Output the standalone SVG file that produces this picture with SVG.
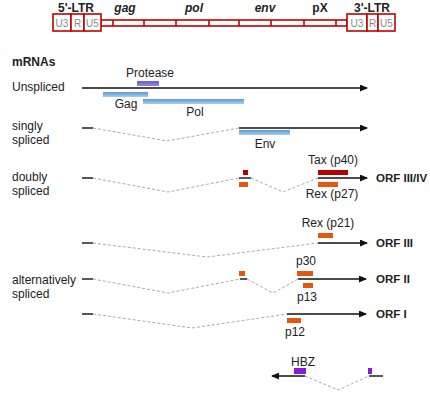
<svg xmlns="http://www.w3.org/2000/svg" width="430" height="400" viewBox="0 0 430 400">
<style>
text{font-family:"Liberation Sans",Arial,sans-serif;fill:#222}
.lbl{font-size:12px}
.top{font-size:12px;font-weight:bold;text-anchor:middle}
.it{font-style:italic}
.box{fill:#fff;stroke:#c00000;stroke-width:1.6}
.bx{font-size:10px;fill:#888;text-anchor:middle}
.orf{font-size:11.5px;font-weight:bold}
.mid{text-anchor:middle}
.sol{stroke:#111;stroke-width:1.4;fill:none}
.dash{stroke:#aaa;stroke-width:1;stroke-dasharray:3,2;fill:none}
.blue{fill:url(#gb)}
.or{fill:#e3570e}
.tax{fill:#b30000}
.hbz{fill:#8a1ad8}
</style>
<defs>
<linearGradient id="gb" x1="0" y1="0" x2="0" y2="1"><stop offset="0" stop-color="#5b9bd5"/><stop offset="1" stop-color="#a8cdf0"/></linearGradient>
<linearGradient id="gp" x1="0" y1="0" x2="0" y2="1"><stop offset="0" stop-color="#6a5cd0"/><stop offset="1" stop-color="#8f86e6"/></linearGradient>
<marker id="ah" markerWidth="8" markerHeight="7" refX="7" refY="3.5" orient="auto" markerUnits="userSpaceOnUse"><path d="M0,0 L8,3.5 L0,7 z" fill="#111"/></marker>
</defs>

<g id="genome">
<rect x="101" y="20" width="246" height="6" fill="#fff" stroke="#c00000" stroke-width="1.6"/>
<path d="M113,20V26M144,20V26M176,20V26M209,20V26M239,20V26M271,20V26M304,20V26M336,20V26" stroke="#c00000" stroke-width="1.6"/>
<rect class="box" x="53" y="14" width="18" height="17"/>
<rect class="box" x="71" y="14" width="13" height="17"/>
<rect class="box" x="84" y="14" width="17" height="17"/>
<rect class="box" x="347" y="14" width="20" height="17"/>
<rect class="box" x="367" y="14" width="11" height="17"/>
<rect class="box" x="378" y="14" width="17" height="17"/>
<text class="bx" x="62" y="27">U3</text>
<text class="bx" x="77.5" y="27">R</text>
<text class="bx" x="92.5" y="27">U5</text>
<text class="bx" x="357" y="27">U3</text>
<text class="bx" x="372.5" y="27">R</text>
<text class="bx" x="386.5" y="27">U5</text>
<text class="top" x="76" y="12">5'-LTR</text>
<text class="top it" x="125" y="12">gag</text>
<text class="top it" x="194" y="12">pol</text>
<text class="top it" x="265" y="12">env</text>
<text class="top" x="320" y="12">pX</text>
<text class="top" x="372" y="12">3'-LTR</text>
</g>

<g id="labels">
<text class="lbl" x="12" y="66" font-weight="bold">mRNAs</text>
<text class="lbl" x="12" y="91">Unspliced</text>
<text class="lbl" x="12" y="130">singly</text>
<text class="lbl" x="12" y="144">spliced</text>
<text class="lbl" x="12" y="181">doubly</text>
<text class="lbl" x="12" y="195">spliced</text>
<text class="lbl" x="12" y="284">alternatively</text>
<text class="lbl" x="12" y="298">spliced</text>
</g>

<g id="unspliced">
<line class="sol" x1="82" y1="88" x2="367" y2="88" marker-end="url(#ah)"/>
<rect x="137" y="81" width="22" height="5" fill="url(#gp)"/>
<rect class="blue" x="103" y="92" width="45" height="5"/>
<rect class="blue" x="143" y="99" width="101" height="5"/>
<text class="lbl mid" x="150" y="77">Protease</text>
<text class="lbl mid" x="126" y="108">Gag</text>
<text class="lbl mid" x="195" y="116">Pol</text>
</g>

<g id="singly">
<line class="sol" x1="82" y1="128" x2="93" y2="128"/>
<polyline class="dash" points="93,128 167,141 239,128"/>
<line class="sol" x1="239" y1="128" x2="367" y2="128" marker-end="url(#ah)"/>
<rect class="blue" x="239" y="130" width="51" height="5"/>
<text class="lbl mid" x="265" y="148">Env</text>
</g>

<g id="doubly">
<line class="sol" x1="82" y1="178" x2="93" y2="178"/>
<polyline class="dash" points="93,178 168,192 239,178"/>
<line class="sol" x1="239" y1="178" x2="251" y2="178"/>
<polyline class="dash" points="251,178 283,192 318,178"/>
<line class="sol" x1="318" y1="178" x2="367" y2="178" marker-end="url(#ah)"/>
<rect class="tax" x="243" y="170" width="5" height="5"/>
<rect class="or" x="239" y="182" width="9" height="5"/>
<rect class="tax" x="318" y="170" width="30" height="5"/>
<rect class="or" x="318" y="182" width="20" height="5"/>
<text class="lbl mid" x="333" y="164">Tax (p40)</text>
<text class="lbl mid" x="332" y="198">Rex (p27)</text>
<text class="orf" x="376" y="182">ORF III/IV</text>
</g>

<g id="orf3">
<line class="sol" x1="82" y1="243" x2="93" y2="243"/>
<polyline class="dash" points="93,243 207,257 318,243"/>
<line class="sol" x1="318" y1="243" x2="367" y2="243" marker-end="url(#ah)"/>
<rect class="or" x="318" y="233" width="15" height="5"/>
<text class="lbl mid" x="328" y="227">Rex (p21)</text>
<text class="orf" x="376" y="247">ORF III</text>
</g>

<g id="orf2">
<line class="sol" x1="82" y1="279" x2="93" y2="279"/>
<polyline class="dash" points="93,279 168,293 240,279"/>
<line class="sol" x1="240" y1="279" x2="247" y2="279"/>
<polyline class="dash" points="247,279 273,293 298,279"/>
<line class="sol" x1="298" y1="279" x2="366" y2="279" marker-end="url(#ah)"/>
<rect class="or" x="239" y="271" width="6" height="5"/>
<rect class="or" x="297" y="271" width="16" height="5"/>
<rect class="or" x="303" y="283" width="10" height="5"/>
<text class="lbl mid" x="306" y="265">p30</text>
<text class="lbl mid" x="307" y="301">p13</text>
<text class="orf" x="376" y="283">ORF II</text>
</g>

<g id="orf1">
<line class="sol" x1="82" y1="314" x2="93" y2="314"/>
<polyline class="dash" points="93,314 192,328 287,314"/>
<line class="sol" x1="287" y1="314" x2="366" y2="314" marker-end="url(#ah)"/>
<rect class="or" x="287" y="318" width="14" height="5"/>
<text class="lbl mid" x="295" y="336">p12</text>
<text class="orf" x="376" y="318">ORF I</text>
</g>

<g id="hbz">
<line class="sol" x1="305" y1="376" x2="272" y2="376" marker-end="url(#ah)"/>
<polyline class="dash" points="305,376 338,390 369,376"/>
<line class="sol" x1="369" y1="376" x2="383" y2="376"/>
<rect class="hbz" x="294" y="368" width="12" height="6"/>
<rect class="hbz" x="368" y="368" width="4" height="6"/>
<text class="lbl mid" x="303" y="366">HBZ</text>
</g>
</svg>
